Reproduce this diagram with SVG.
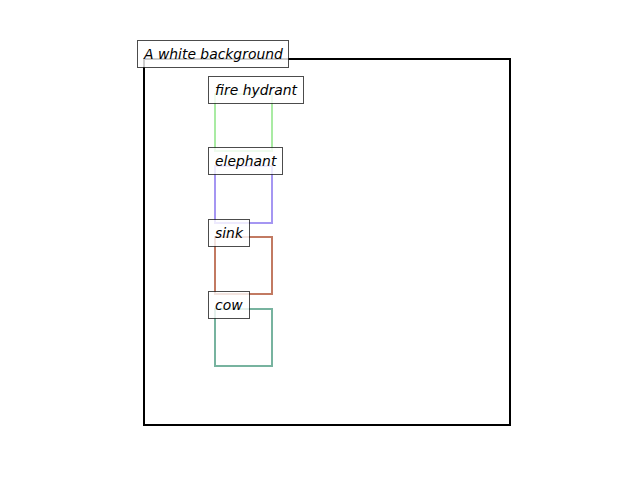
<svg xmlns="http://www.w3.org/2000/svg" width="640" height="480" viewBox="0 0 640 480">
<style>
.lbl{fill:#fff;fill-opacity:0.8;stroke:#000;stroke-opacity:0.7;stroke-width:1}
.t{font-family:"DejaVu Sans",sans-serif;font-style:oblique;font-size:13.9px;fill:#000}
.bb{fill:none;stroke-width:2}
</style>
<rect x="0" y="0" width="640" height="480" fill="#fff"/>
<g id="frame"><rect x="144" y="59" width="366" height="366" fill="none" stroke="#000" stroke-width="2"/></g>
<g id="connectors"></g>
<g id="fire-hydrant"><rect class="bb" x="215" y="94" width="57" height="57" stroke="#a9eba3"/></g>
<g id="elephant"><rect class="bb" x="215" y="166" width="57" height="57" stroke="#a596f2"/></g>
<g id="sink"><rect class="bb" x="215" y="237" width="57" height="57" stroke="#c27a62"/></g>
<g id="cow"><rect class="bb" x="215" y="309" width="57" height="57" stroke="#77b39f"/></g>
<g id="label-bg"><rect class="lbl" x="137.5" y="40.5" width="151" height="27"/><text class="t" x="144" y="59">A white background</text></g>
<g id="label-fire-hydrant"><rect class="lbl" x="208.5" y="76.5" width="95" height="27"/><text class="t" x="215" y="95">fire hydrant</text></g>
<g id="label-elephant"><rect class="lbl" x="208.5" y="147.5" width="74" height="27"/><text class="t" x="215" y="166">elephant</text></g>
<g id="label-sink"><rect class="lbl" x="208.5" y="219.5" width="41" height="27"/><text class="t" x="215" y="238">sink</text></g>
<g id="label-cow"><rect class="lbl" x="208.5" y="291.5" width="41" height="27"/><text class="t" x="215" y="310">cow</text></g>
</svg>
